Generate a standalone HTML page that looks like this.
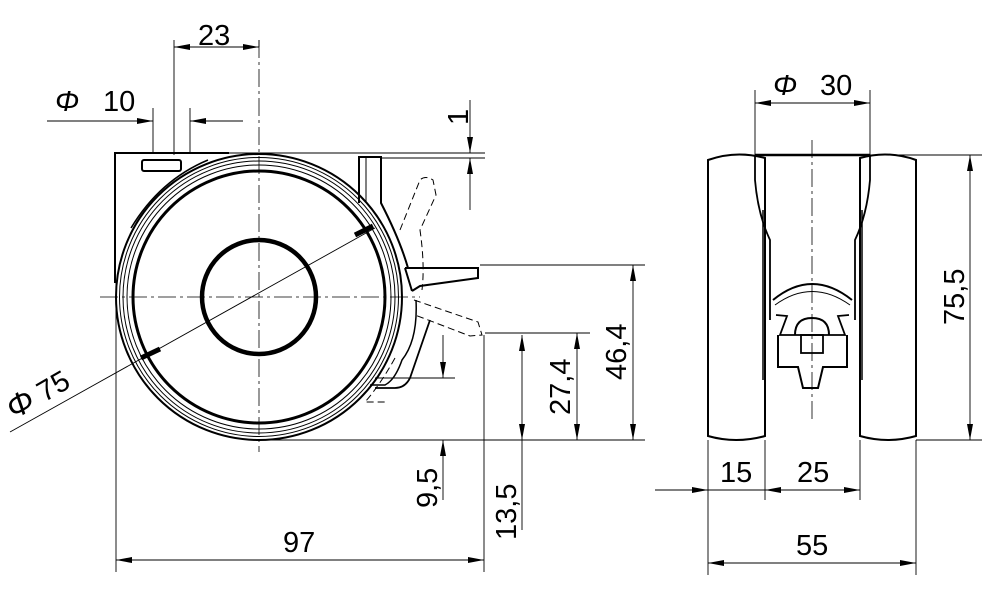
<!DOCTYPE html>
<html><head><meta charset="utf-8"><style>
html,body{margin:0;padding:0;background:#fff}
svg{display:block}
text{font-family:"Liberation Sans",sans-serif;font-size:29px;fill:#000}
</style></head><body>
<svg width="1000" height="598" viewBox="0 0 1000 598" xmlns="http://www.w3.org/2000/svg">
<defs>
<marker id="a" viewBox="0 0 16 6" refX="16" refY="3" markerWidth="16" markerHeight="6" markerUnits="userSpaceOnUse" orient="auto-start-reverse"><path d="M0,0L16,3L0,6z" fill="#000"/></marker>
</defs>
<g stroke="#000" fill="none">
<g stroke-width="0.8" stroke-dasharray="18,4,3,4">
<line x1="259" y1="40" x2="259" y2="452"/>
<line x1="100" y1="297" x2="420" y2="297"/>
<line x1="812" y1="140" x2="812" y2="420"/>
</g>
<circle cx="259" cy="297" r="143" stroke-width="2"/>
<circle cx="259" cy="297" r="139.5" stroke-width="1"/>
<circle cx="259" cy="297" r="136" stroke-width="1"/>
<circle cx="259" cy="297" r="132" stroke-width="1"/>
<circle cx="259" cy="297" r="126" stroke-width="3"/>
<circle cx="259" cy="297" r="57" stroke-width="4.5"/>
<path d="M115,283V153H229" stroke-width="2"/>
<rect x="142" y="160" width="39" height="11" rx="2" stroke-width="2"/>
<path d="M131,228Q160,180 208,160" stroke-width="1.5"/>
<path d="M359,203V157H381V203Q400,240 408,268" stroke-width="2"/>
<path d="M366,157V203" stroke-width="1"/>
<path d="M405,268H478V278L420,286L412,291" stroke-width="2"/>
<path d="M405,268L412,291" stroke-width="2"/>
<path d="M416,300Q418,340 402,360Q395,380 385,385H370" stroke-width="1.5"/>
<path d="M430,320L410,378Q405,388 395,388H375" stroke-width="1.8"/>
<g stroke-width="1" stroke-dasharray="7,4">
<path d="M400,230L420,180Q425,175 433,180L436,195L420,230Q425,265 422,290"/>
<path d="M414,300L478,322L482,335L470,336L415,315"/>
<path d="M395,358Q380,385 365,402H385"/>
</g>
<g stroke-width="0.9">
<line x1="174" y1="40" x2="174" y2="155"/>
<line x1="259" y1="47" x2="259" y2="40"/>
<line x1="174" y1="47" x2="259" y2="47" marker-start="url(#a)" marker-end="url(#a)"/>
<line x1="153" y1="108" x2="153" y2="153"/>
<line x1="190" y1="108" x2="190" y2="153"/>
<line x1="47" y1="121" x2="153" y2="121" marker-end="url(#a)"/>
<line x1="243" y1="121" x2="190" y2="121" marker-end="url(#a)"/>
<line x1="229" y1="153" x2="485" y2="153"/>
<line x1="381" y1="158" x2="485" y2="158"/>
<line x1="470" y1="100" x2="470" y2="153" marker-end="url(#a)"/>
<line x1="470" y1="210" x2="470" y2="158" marker-end="url(#a)"/>
<line x1="10" y1="432" x2="375" y2="228"/>
<line x1="480" y1="265" x2="645" y2="265"/>
<line x1="270" y1="440" x2="645" y2="440"/>
<line x1="633" y1="265" x2="633" y2="440" marker-start="url(#a)" marker-end="url(#a)"/>
<line x1="485" y1="333" x2="590" y2="333"/>
<line x1="577" y1="333" x2="577" y2="440" marker-start="url(#a)" marker-end="url(#a)"/>
<line x1="375" y1="378" x2="455" y2="378"/>
<line x1="443" y1="335" x2="443" y2="378" marker-end="url(#a)"/>
<line x1="443" y1="500" x2="443" y2="440" marker-end="url(#a)"/>
<line x1="522" y1="335" x2="522" y2="440" marker-end="url(#a)" marker-start="url(#a)"/>
<line x1="522" y1="440" x2="522" y2="530"/>
<line x1="116" y1="283" x2="116" y2="572"/>
<line x1="484" y1="335" x2="484" y2="572"/>
<line x1="116" y1="560" x2="484" y2="560" marker-start="url(#a)" marker-end="url(#a)"/>
<line x1="755" y1="90" x2="755" y2="155"/>
<line x1="870" y1="90" x2="870" y2="155"/>
<line x1="755" y1="103" x2="870" y2="103" marker-start="url(#a)" marker-end="url(#a)"/>
<line x1="870" y1="155" x2="982" y2="155"/>
<line x1="916" y1="440" x2="982" y2="440"/>
<line x1="970" y1="155" x2="970" y2="440" marker-start="url(#a)" marker-end="url(#a)"/>
<line x1="708" y1="440" x2="708" y2="575"/>
<line x1="765" y1="440" x2="765" y2="500"/>
<line x1="860" y1="440" x2="860" y2="500"/>
<line x1="916" y1="440" x2="916" y2="575"/>
<line x1="655" y1="490" x2="708" y2="490" marker-end="url(#a)"/>
<line x1="708" y1="490" x2="765" y2="490"/>
<line x1="765" y1="490" x2="860" y2="490" marker-start="url(#a)" marker-end="url(#a)"/>
<line x1="708" y1="563" x2="916" y2="563" marker-start="url(#a)" marker-end="url(#a)"/>
</g>
<path d="M355,235L373,226" stroke-width="5"/>
<path d="M141,358L160,349" stroke-width="5"/>
<path d="M708,160Q736,150 765,158V436Q736,444 708,436Z" stroke-width="2"/>
<path d="M860,158Q888,150 916,160V436Q888,444 860,436Z" stroke-width="2"/>
<path d="M755,155H870" stroke-width="2.5"/>
<path d="M755,155V180Q758,215 770,240V320" stroke-width="1.8"/>
<path d="M870,155V180Q867,215 855,240V320" stroke-width="1.8"/>
<path d="M763,210V380M862,210V380" stroke-width="1.5"/>
<path d="M773,300Q812,268 852,300" stroke-width="2"/>
<path d="M775,305Q812,278 850,305" stroke-width="1"/>
<path d="M776,315L787,316L780,335H845L838,316L849,315" stroke-width="1.8"/>
<path d="M778,335V367H798L803,388H818L823,367H847V335" stroke-width="2"/>
<path d="M795,335Q795,318 812,318Q829,318 829,335" stroke-width="2"/>
<rect x="801" y="335" width="22" height="18" stroke-width="1.8"/>
</g>
<text x="198" y="45">23</text>
<text x="55" y="111" font-size="32" font-style="italic">Φ</text>
<text x="103" y="111">10</text>
<text transform="translate(468,125) rotate(-90)">1</text>
<text transform="translate(14,420) rotate(-30)"><tspan font-size="32" font-style="italic">Φ</tspan> 75</text>
<text transform="translate(626,380) rotate(-90)">46,4</text>
<text transform="translate(570,415) rotate(-90)">27,4</text>
<text transform="translate(437,508) rotate(-90)">9,5</text>
<text transform="translate(516,540) rotate(-90)">13,5</text>
<text x="283" y="552">97</text>
<text x="773" y="95" font-size="32" font-style="italic">Φ</text>
<text x="820" y="95">30</text>
<text transform="translate(964,325) rotate(-90)">75,5</text>
<text x="720" y="482">15</text>
<text x="797" y="482">25</text>
<text x="796" y="555">55</text>
</svg>
</body></html>
